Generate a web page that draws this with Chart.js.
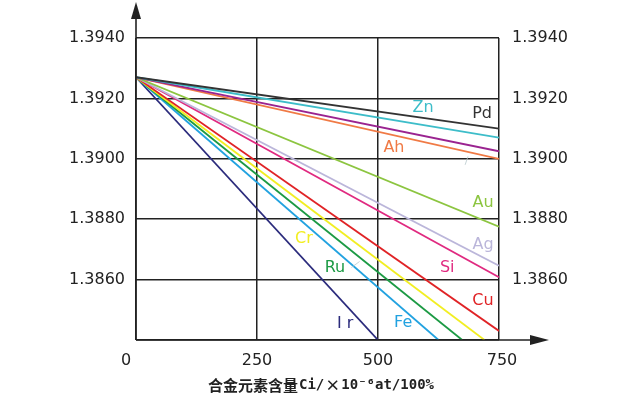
<!DOCTYPE html>
<html>
<head>
<meta charset="utf-8">
<script src="https://cdn.jsdelivr.net/npm/chart.js@4/dist/chart.umd.min.js"></script>
<style>
  html, body { margin: 0; padding: 0; background: #fff; }
  #wrap { width: 640px; height: 395px; }
</style>
</head>
<body>
<div id="wrap"><canvas id="c" width="640" height="395"></canvas></div>
<script>
// 合金元素 (alloying elements)
const elements = ['Pd', 'Zn', '', 'Ah', 'Au', 'Ag', 'Si', 'Cu', 'Cr', 'Ru', 'Fe', 'I r'];
const colors = ['#333333', '#3dbdc9', '#9a2390', '#f07a45', '#8cc540', '#bbb6da', '#e02a80', '#e02326', '#f2ee22', '#1c9a44', '#22a2e0', '#2b2b7c'];
const startX = 0;
const startY = 1.3927;
const endX = [750, 750, 750, 750, 750, 750, 750, 750, 720, 674, 625, 500];
const endY = [1.3910, 1.3907, 1.39025, 1.3900, 1.38775, 1.38646, 1.38608, 1.3843, 1.3840, 1.3840, 1.3840, 1.3840];
// label anchor points (data units)
const labelX = [715, 593, null, 533, 717, 717, 643, 717, 347, 411, 552, 432];
const labelY = [1.39149, 1.39169, null, 1.39036, 1.38855, 1.38716, 1.38640, 1.38531, 1.38736, 1.38640, 1.38458, 1.38455];

const xTicks = [0, 250, 500, 750];
const yTicks = [1.3940, 1.3920, 1.3900, 1.3880, 1.3860];
// axis title pieces: [text, font]
const titleParts = [
  ['合金元素含量', 'bold 15px "Noto Sans CJK SC", sans-serif'],
  ['Ci/', 'bold 14px "DejaVu Sans Mono", monospace'],
  ['×', 'bold 15px "Noto Sans CJK SC", sans-serif'],
  ['10⁻⁶at/100%', 'bold 14px "DejaVu Sans Mono", monospace']
];

const datasets = elements.map((el, i) => ({
  label: el,
  data: [{ x: startX, y: startY }, { x: endX[i], y: endY[i] }],
  borderColor: colors[i],
  borderWidth: 1.8,
  pointRadius: 0,
  fill: false,
  tension: 0
}));

const decor = {
  id: 'decor',
  afterDraw(chart) {
    const ctx = chart.ctx;
    const xs = chart.scales.x, ys = chart.scales.y;
    const a = chart.chartArea;
    ctx.save();
    // axes with arrows
    ctx.strokeStyle = '#222';
    ctx.fillStyle = '#222';
    ctx.lineWidth = 1.6;
    ctx.beginPath();
    ctx.moveTo(a.left, a.bottom);
    ctx.lineTo(a.left, 12);
    ctx.moveTo(a.left, a.bottom);
    ctx.lineTo(535, a.bottom);
    ctx.stroke();
    ctx.beginPath();
    ctx.moveTo(a.left, 2);
    ctx.lineTo(a.left - 5, 19);
    ctx.lineTo(a.left + 5, 19);
    ctx.closePath();
    ctx.fill();
    ctx.beginPath();
    ctx.moveTo(549, a.bottom);
    ctx.lineTo(530, a.bottom - 5);
    ctx.lineTo(530, a.bottom + 5);
    ctx.closePath();
    ctx.fill();

    // tick labels
    ctx.font = '16px "DejaVu Sans", sans-serif';
    ctx.textBaseline = 'middle';
    yTicks.forEach(v => {
      const py = ys.getPixelForValue(v);
      ctx.textAlign = 'right';
      ctx.fillText(v.toFixed(4), a.left - 11, py);
      ctx.textAlign = 'left';
      ctx.fillText(v.toFixed(4), a.right + 13, py);
    });
    ctx.textAlign = 'center';
    xTicks.forEach((v, i) => {
      let px = xs.getPixelForValue(v);
      if (i === 0) px -= 10;
      if (i === xTicks.length - 1) px += 3;
      ctx.fillText(String(v), px, 361);
    });

    // axis title
    ctx.textAlign = 'left';
    let tx = 208;
    titleParts.forEach(([t, f]) => {
      ctx.font = f;
      ctx.fillText(t, tx, 385);
      tx += ctx.measureText(t).width + 1;
    });

    // line labels
    ctx.textAlign = 'center';
    ctx.font = '16px "DejaVu Sans", sans-serif';
    elements.forEach((el, i) => {
      if (!el || labelX[i] === null) return;
      ctx.fillStyle = colors[i];
      ctx.fillText(el, xs.getPixelForValue(labelX[i]), ys.getPixelForValue(labelY[i]));
    });

    // small leader ticks
    ctx.strokeStyle = '#b8c8cc';
    ctx.lineWidth = 0.8;
    ctx.beginPath();
    ctx.moveTo(xs.getPixelForValue(445), ys.getPixelForValue(1.38640));
    ctx.lineTo(xs.getPixelForValue(462), ys.getPixelForValue(1.38660));
    ctx.moveTo(xs.getPixelForValue(686), ys.getPixelForValue(1.39008));
    ctx.lineTo(xs.getPixelForValue(680), ys.getPixelForValue(1.38980));
    ctx.stroke();
    ctx.restore();
  }
};

new Chart(document.getElementById('c').getContext('2d'), {
  type: 'line',
  data: { datasets: datasets },
  options: {
    responsive: false,
    animation: false,
    layout: { padding: { left: 136, right: 141, top: 38, bottom: 55 } },
    plugins: { legend: { display: false }, tooltip: { enabled: false } },
    scales: {
      x: {
        type: 'linear',
        min: 0,
        max: 750,
        ticks: { display: false, stepSize: 250 },
        grid: { color: '#222', lineWidth: 1.5, drawTicks: false },
        border: { display: false }
      },
      y: {
        min: 1.3840,
        max: 1.3940,
        ticks: { display: false, stepSize: 0.002 },
        grid: { color: '#222', lineWidth: 1.5, drawTicks: false },
        border: { display: false }
      }
    }
  },
  plugins: [decor]
});
</script>
</body>
</html>
